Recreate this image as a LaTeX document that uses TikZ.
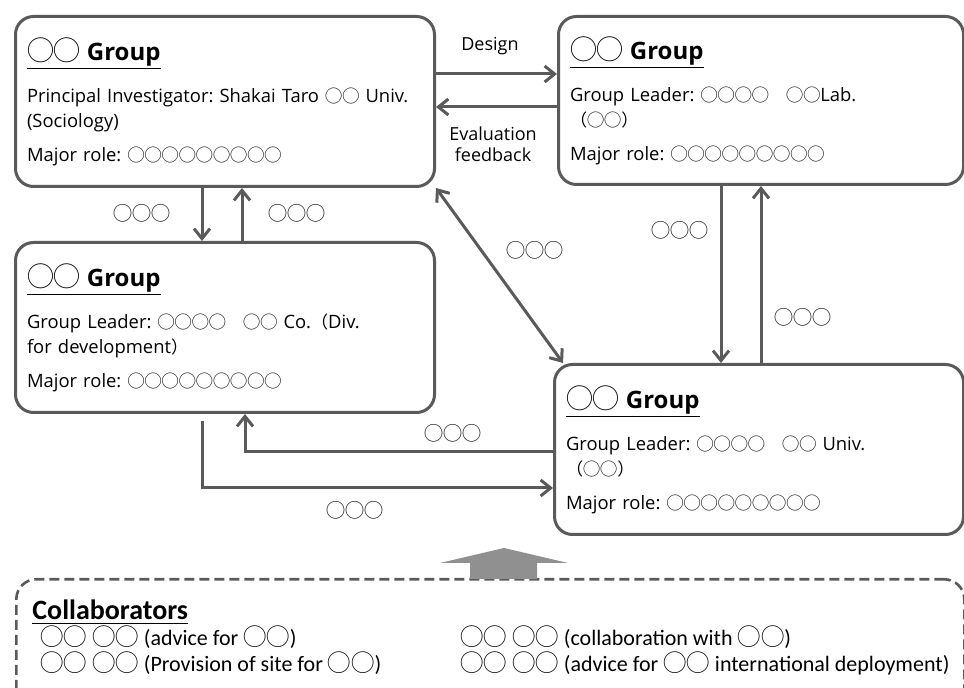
\documentclass[tikz,border=0pt]{standalone}
\usepackage{fontspec}
\setmainfont{Open Sans}
\newfontfamily\cjk{Noto Sans CJK JP}[Scale=0.93]
\newfontfamily\cjkhead{Noto Sans CJK JP}[Scale=1.06]
\newfontfamily\cjktitle{Noto Sans CJK JP}[Scale=1.12]
\newfontfamily\collabfont{Carlito}
\usetikzlibrary{arrows.meta, positioning}
\definecolor{edge}{HTML}{5A5A5A}
\definecolor{support}{HTML}{909090}
\frenchspacing

\newcommand{\oo}[1]{{\cjk #1}}
\newcommand{\bigoo}[1]{{\cjkhead #1}}
\newcommand{\grouphead}{{\fontsize{12}{14}\selectfont\underline{{\cjktitle ◯◯} \textbf{Group}}}}

\tikzset{
  grpbox/.style={draw=edge, line width=1.5pt, rounded corners=9pt, anchor=north west,
    minimum width=209.5pt, minimum height=85pt, text width=198pt, inner xsep=5.5pt,
    align=left, font=\fontsize{9.2}{12.3}\selectfont},
  flow/.style={draw=edge, line width=1.5pt, -{Straight Barb[length=5pt,width=8pt]}},
  both/.style={flow, {Straight Barb[length=5pt,width=8pt]}-{Straight Barb[length=5pt,width=8pt]}},
  lbl/.style={font=\fontsize{9}{10.5}\selectfont, inner sep=1pt, align=center},
  tag/.style={font=\fontsize{10.2}{12}\selectfont, inner sep=1pt},
  collab/.style={anchor=base west, inner sep=0pt, font=\collabfont\fontsize{11}{13}\selectfont}
}

\begin{document}
\begin{tikzpicture}[x=0.5pt, y=-0.5pt]
  \useasboundingbox (0,0) rectangle (964,688);
  \clip (0,0) rectangle (964,688);
  % Groups
  \node[grpbox] (pi) at (14,15) {\grouphead\\[9pt]
    Principal Investigator: Shakai Taro \oo{◯◯} Univ.\\
    (Sociology)\\[4.5pt]
    Major role: \oo{◯◯◯◯◯◯◯◯◯}};
  \node[grpbox, minimum width=202.5pt, text width=191pt, minimum height=84pt] (g2) at (557,15) {\grouphead\\[9pt]
    Group Leader: \oo{◯◯◯◯　◯◯}Lab.\\
    \oo{（◯◯）}\\[4.5pt]
    Major role: \oo{◯◯◯◯◯◯◯◯◯}};
  \node[grpbox] (g3) at (14,241) {\grouphead\\[9pt]
    Group Leader: \oo{◯◯◯◯　◯◯} Co.\oo{（}Div.\\
    for development\oo{）}\\[4.5pt]
    Major role: \oo{◯◯◯◯◯◯◯◯◯}};
  \node[grpbox, minimum width=204.5pt, text width=193pt] (g4) at (553,363) {\grouphead\\[9pt]
    Group Leader: \oo{◯◯◯◯　◯◯} Univ.\\
    \oo{（◯◯）}\\[4.5pt]
    Major role: \oo{◯◯◯◯◯◯◯◯◯}};
  % Flows between groups
  \draw[flow] (pi.east |- 0,74) -- (g2.west |- 0,74);
  \draw[flow] (g2.west |- 0,107) -- (pi.east |- 0,107);
  \draw[flow] (pi.south -| 202,0) -- (g3.north -| 202,0);
  \draw[flow] (g3.north -| 242,0) -- (pi.south -| 242,0);
  \draw[both] (pi.south east) -- ([xshift=5pt]g4.north west);
  \draw[flow] (g2.south -| 721,0) -- (g4.north -| 721,0);
  \draw[flow] (g4.north -| 761,0) -- (g2.south -| 761,0);
  \draw[flow] (g4.west |- 0,452) -| (g3.south -| 245,0);
  \draw[flow, shorten <=3.5pt] (g3.south -| 202,0) |- (g4.west |- 0,488);
  % Labels
  \node[lbl] (design) at (490,46) {Design};
  \node[lbl] (evalfb) at (493,144) {Evaluation\\feedback};
  \node[tag] (down13) at (142,213) {\oo{◯◯◯}};
  \node[tag] (up31) at (297,213) {\oo{◯◯◯}};
  \node[tag] (diag14) at (535,250) {\oo{◯◯◯}};
  \node[tag] (down24) at (680,230) {\oo{◯◯◯}};
  \node[tag] (up42) at (803,317) {\oo{◯◯◯}};
  \node[tag] (back43) at (453,433) {\oo{◯◯◯}};
  \node[tag] (fwd34) at (355,510) {\oo{◯◯◯}};
  % Collaborators
  \node[draw=edge, line width=1.3pt, dash pattern=on 5pt off 2.5pt, rounded corners=10pt,
    anchor=north west, minimum width=474pt, minimum height=80pt] (collab) at (15,578) {};
  \fill[support] (470,579) -- (470,563) -- (440,563) -- (504,548) -- (568,563) -- (537,563) -- (537,579) -- cycle;
  \node[collab, font=\collabfont\bfseries\fontsize{14}{16}\selectfont] (ctitle) at (32,620) {\underline{Collaborators}};
  \node[collab] (c1) at (40,646) {\bigoo{◯◯ ◯◯} (advice for \bigoo{◯◯})};
  \node[collab] (c2) at (40,672) {\bigoo{◯◯ ◯◯} (Provision of site for \bigoo{◯◯})};
  \node[collab] (c3) at (460,646) {\bigoo{◯◯ ◯◯} (collaboration with \bigoo{◯◯})};
  \node[collab] (c4) at (460,672) {\bigoo{◯◯ ◯◯} (advice for \bigoo{◯◯} international deployment)};
\end{tikzpicture}
\end{document}
